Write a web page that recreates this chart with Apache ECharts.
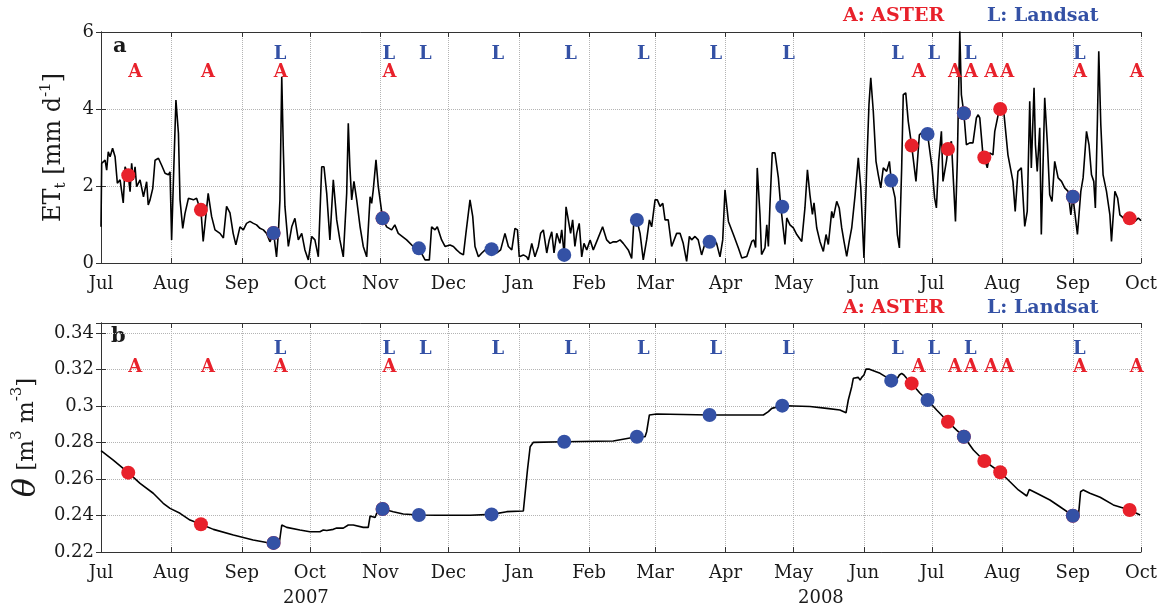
<!DOCTYPE html>
<html>
<head>
<meta charset="UTF-8">
<title>ET_t and soil moisture, ASTER / Landsat overpasses</title>
<script src="https://cdn.jsdelivr.net/npm/echarts@6/dist/echarts.min.js"></script>
<style>html,body,#container{width:100%;height:100%;margin:0;padding:0;background:#fff;}</style>
</head>
<body>
<div id="container"></div>
<script>
// ---- data ----
var monthNames = ['Jan','Feb','Mar','Apr','May','Jun','Jul','Aug','Sep','Oct','Nov','Dec'];
var yearLabels = ['2007', '2008'];

// overpass dates
var asterDates = ['2007-07-13','2007-08-14','2007-09-15','2007-11-02','2008-06-22','2008-07-08',
                  '2008-07-15','2008-07-24','2008-07-31','2008-09-01','2008-09-26'];
var asterET    = [2.28, 1.38, 0.78, 1.16, 3.05, 2.96, 3.89, 2.74, 4.0, 1.72, 1.16];
var asterTheta = [0.2635, 0.2352, 0.225, 0.2436, 0.3124, 0.2914, 0.2832, 0.2699, 0.2637, 0.2399, 0.243];

var landsatDates = ['2007-09-15','2007-11-02','2007-11-18','2007-12-20','2008-01-21','2008-02-22',
                    '2008-03-25','2008-04-26','2008-06-13','2008-06-29','2008-07-15','2008-09-01'];
var landsatET    = [0.78, 1.16, 0.38, 0.36, 0.21, 1.12, 0.55, 1.46, 2.14, 3.35, 3.89, 1.72];
var landsatTheta = [0.225, 0.2436, 0.2403, 0.2406, 0.2804, 0.2832, 0.2951, 0.3002, 0.3139, 0.3033, 0.2832, 0.2399];

// daily ET_t, day = days since 1 Jul 2007
var etDay = [0,0.3,1.8,2.5,3.2,4,5.1,6.2,7.2,8.4,9.8,10.6,12,12.8,13.5,14.2,15,15.7,17.2,18.7,20.1,20.8,21.6,22.8,23.8,25.3,26.7,28.2,29.7,30.4,
  31.1,31.9,33,34.1,34.8,36,37,38.5,39.2,40.7,42.1,43.3,44,45,47.2,48.7,50.2,52.4,53.9,55.3,56.8,58.2,59.4,61.2,62.7,64.1,65.6,67.1,68.5,70,
  71.5,72.9,74.4,76,77.3,78.1,78.8,79.6,80.3,81,82.5,84,85.4,86.9,88.4,89.8,91.3,92.8,94.2,95.7,97.2,98.2,99.4,100.8,102.3,103.8,105.2,106.7,108.2,108.9,
  109.6,110.4,111.4,112.6,114.1,115.5,117,118.5,119.2,119.9,121.1,122.1,124,125.8,128,129.4,130.9,131.7,134.6,137.5,140,142.7,144.6,145.6,147.1,148.1,
  150,151.5,153.7,155.2,156.6,158.1,159.6,160.7,162.5,163.7,164.7,166.2,167.7,169.9,172,174.3,176,177.9,179.4,180.9,182.3,183.4,184.2,186,187.5,188.2,
  189.7,191.1,192.6,193.6,194.8,196.3,197.4,198.5,199.5,200.7,202.1,202.9,204,204.8,205.8,206.8,207.7,208.7,209.5,210.6,211.7,212.7,213.9,215.4,216.8,218.6,
  220.9,222.7,224.2,225.6,227.1,228.6,230,232.2,233.7,234.7,236,237.4,238.8,240.3,241.5,242.5,244,245,246.2,247.4,248.4,249.8,251.3,253.5,255,256.4,
  257.9,259.1,260.1,261.6,263,264.5,266,268,269.7,271.1,272.6,273.8,274.8,276.3,278.5,280.7,282.2,284.4,286.6,287.5,288.3,289,290.2,290.9,292.4,293.2,
  293.9,294.6,295.6,296.8,298.3,299.3,300,301.2,302,303.4,304.9,306.4,308.6,310,311.1,312.2,313.3,314,315.2,316.6,318.1,319.3,320.3,321.8,322.5,324,
  325.1,326.2,327.2,328.4,329.5,330.6,332.1,333.5,334.6,336,337.2,338.2,339,340.1,341.3,342.3,343.4,344.5,346,347.2,348,349.7,350.7,351.6,352.6,353.3,
  354.4,355.5,357,358.9,360.4,362.1,364,366,367.1,367.9,368.9,370.1,370.8,372.3,373,374.5,375.3,376.3,377.1,378.2,378.9,380,381.1,382.6,384,385.5,
  386.3,387,388.4,389,390.3,391.4,392.8,393.6,395.1,396,397.7,399.4,401.6,402.6,403.8,405.3,406,406.8,407.9,409,409.7,410.9,411.5,412.3,413.4,414.1,
  415.6,416.8,417.8,418.8,420,421.5,423,424.4,425.9,427.1,428,428.8,430,431.5,432.5,434,435.1,436.2,437.2,437.9,438.8,439.4,440.3,441.3,442.8,444.3,
  445,446.5,447.7,448.7,450.2,453,453.9,455.3,456.8,458];
var etValue = [0.94,2.59,2.67,2.41,2.89,2.76,2.98,2.76,2.07,2.16,1.56,2.5,2.28,1.85,2.59,2.16,2.5,1.98,2.16,1.72,2.11,1.51,1.64,1.94,2.67,2.72,2.54,2.33,2.29,2.37,
  0.6,2.16,4.23,3.37,1.64,0.9,1.29,1.68,1.72,1.64,1.68,1.46,1.38,0.56,1.81,1.21,0.86,0.77,0.65,1.47,1.3,0.77,0.47,0.94,0.86,1.03,1.08,1.03,0.99,0.9,
  0.86,0.77,0.55,0.78,0.16,0.77,1.64,4.84,2.94,1.47,0.43,0.94,1.16,0.6,0.77,0.34,0.08,0.69,0.6,0.16,2.5,2.5,1.81,0.6,2.16,1.12,0.6,0.16,1.81,3.63,
  2.5,1.64,2.12,1.64,0.94,0.43,0.16,1.72,1.55,1.9,2.68,1.99,1.16,0.94,0.86,0.99,0.77,0.77,0.6,0.43,0.38,0.08,0.08,0.94,0.86,0.94,
  0.6,0.43,0.47,0.43,0.34,0.26,0.21,0.77,1.64,1.21,0.43,0.16,0.26,0.38,0.36,0.26,0.34,0.77,0.43,0.34,0.9,0.86,0.16,0.21,0.16,0.08,
  0.51,0.16,0.43,0.77,0.86,0.26,0.6,0.81,0.26,0.77,0.51,0.86,0.21,1.46,1.12,0.77,1.12,0.43,0.77,1.03,0.16,0.51,0.34,0.6,0.34,0.6,
  0.94,0.6,0.51,0.55,0.55,0.6,0.51,0.34,0.12,1.12,1.12,0.77,0.08,0.6,1.12,0.94,1.64,1.64,1.47,1.55,1.12,1.12,0.43,0.77,0.77,0.51,
  0.04,0.69,0.6,0.69,0.6,0.21,0.51,0.55,0.6,0.51,0.16,0.6,1.9,1.08,0.74,0.39,0.13,0.17,0.56,0.6,0.4,2.47,1.26,0.22,0.39,0.99,
  0.43,1.51,2.86,2.86,2.21,1.51,1.46,0.48,1.17,0.99,0.91,0.74,0.56,1.43,2.42,1.77,1.26,1.56,0.91,0.56,0.3,0.74,0.48,1.34,1.17,1.6,
  1.43,0.91,0.56,0.17,0.56,0.91,1.77,2.73,1.95,0.13,2.47,4.11,4.81,3.94,2.64,2.29,1.95,2.47,2.38,2.64,2.14,1.69,0.74,0.39,2.47,4.37,
  4.42,3.68,3.05,2.12,3.33,3.42,3.35,2.47,1.69,1.43,2.64,3.42,2.12,2.64,2.96,3.16,3.12,1.08,2.64,6.02,4.37,3.89,3.07,3.12,3.12,3.77,
  3.85,3.77,2.81,2.74,2.47,2.86,2.81,3.42,3.85,4.0,3.85,2.81,2.12,1.34,2.38,2.47,2.43,0.95,1.34,4.2,2.47,4.55,3.07,2.38,3.51,0.74,
  4.29,3.07,1.77,1.6,2.64,2.21,2.12,1.95,1.86,1.25,1.72,1.34,0.74,1.86,2.21,3.42,3.07,2.29,2.12,1.43,3.68,5.5,3.59,2.29,1.86,1.25,
  0.56,1.86,1.69,1.25,1.17,1.16,1.12,1.08,1.17,1.1];

// soil moisture theta, day = days since 1 Jul 2007
var thetaDay = [0,5.4,12,17.2,23,27.4,30.4,34.8,39.2,44,49.5,58.3,67,73,76,78.5,79.6,81.8,87.6,92,96.4,97.9,99.4,102.3,103.8,106.7,108.9,111.1,115.5,117.7,
  118.5,119.2,120.7,121.4,124,128.7,133.1,140,147.8,162.5,172,178.7,186,187.8,189,190.4,204,225.6,236,239.6,240.3,241.5,244.7,268,275.6,291.7,293.9,295.4,300,304.9,
  312.2,319.6,325.4,328.1,329.1,330.6,331.3,333.5,334.3,335,336,336.9,338.4,343.1,346,348,350.4,351.6,352.6,353.6,354.8,357,360.7,364,368,373,376.8,380,384.2,389,
  396,400.3,404,407.7,408.8,412.1,417.9,422.3,428,430.4,431.4,432.6,435.5,440,445.8,453,457.6];
var thetaValue = [0.2755,0.2704,0.2635,0.2576,0.2522,0.2467,0.2439,0.2412,0.2375,0.2352,0.2324,0.2293,0.2266,0.2252,0.225,0.2248,0.2348,0.2335,0.2321,0.2311,0.2311,0.2321,0.2318,0.2324,0.2331,0.2331,0.2348,0.2348,0.2335,0.2335,
  0.2397,0.2394,0.2389,0.2412,0.2436,0.2421,0.2408,0.2403,0.2401,0.2401,0.2406,0.2421,0.2425,0.2649,0.2777,0.2801,0.2804,0.2808,0.2832,0.2832,0.2859,0.2951,0.2956,0.2951,0.2951,0.2951,0.2969,0.2987,0.3002,0.3,
  0.2997,0.2987,0.2978,0.2963,0.3033,0.3106,0.3152,0.3157,0.3142,0.3157,0.317,0.3203,0.3202,0.3179,0.3157,0.3139,0.3146,0.317,0.3179,0.317,0.3152,0.3124,0.307,0.3033,0.2978,0.2914,0.2868,0.2832,0.2759,0.2699,
  0.2637,0.2585,0.254,0.2507,0.2543,0.2522,0.2485,0.2448,0.2399,0.2392,0.253,0.254,0.2522,0.25,0.2458,0.243,0.2403];

// ---- helpers ----
var RED = '#e8212b', BLUE = '#3451a5', INK = '#1a1a1a', FONT = 'DejaVu Serif';
var DAY = 86400000;
var t0 = Date.UTC(2007, 6, 1);
function dayOf(y, m, d) { return Math.round((Date.UTC(y, m, d) - t0) / DAY); }
function toDay(s) { var p = s.split('-'); return dayOf(+p[0], +p[1] - 1, +p[2]); }
function pairs(days, vals) { return days.map(function (d, i) { return [d, vals[i]]; }); }
function datePairs(dates, vals) { return dates.map(function (d, i) { return [toDay(d), vals[i]]; }); }

var monthTicks = [];
for (var i = 0; i <= 15; i++) monthTicks.push(dayOf(2007, 6 + i, 1));
var dEnd = monthTicks[monthTicks.length - 1];
function monthLabel(v) {
  var k = monthTicks.indexOf(Math.round(v));
  return k < 0 ? '' : monthNames[(6 + k) % 12];
}

// letter rows (A/L) sit at fixed heights inside each panel
var rowET = { L: 5.43, A: 4.94 };
var rowTheta = { L: 0.3313, A: 0.3214 };

function xAx(grid, pos) {
  var bottom = pos === 'bottom';
  return {
    type: 'value', gridIndex: grid, position: pos, min: 0, max: dEnd,
    axisLine: { show: true, onZero: false, lineStyle: { color: '#333', width: 1 } },
    axisTick: { show: true, inside: true, length: 5, customValues: monthTicks, lineStyle: { color: '#333' } },
    axisLabel: {
      show: bottom, customValues: monthTicks, margin: 12, color: INK, fontFamily: FONT, fontSize: 18,
      formatter: monthLabel
    },
    splitLine: { show: bottom, lineStyle: { type: 'dotted', color: '#b4b4b4', width: 1 } }
  };
}
function yAx(grid, pos, min, max, step, fmt, name, nameStyle, gap) {
  var left = pos === 'left';
  return {
    type: 'value', gridIndex: grid, position: pos, min: min, max: max, interval: step,
    axisLine: { show: true, lineStyle: { color: '#333', width: 1 } },
    axisTick: { show: true, inside: true, length: 5, lineStyle: { color: '#333' } },
    axisLabel: { show: left, margin: 7, color: INK, fontFamily: FONT, fontSize: 18, formatter: fmt },
    splitLine: { show: left, lineStyle: { type: 'dotted', color: '#b4b4b4', width: 1 } },
    name: left ? name : '', nameLocation: 'middle', nameRotate: 90, nameGap: gap,
    nameTextStyle: nameStyle
  };
}
function letterSeries(xi, yi, dates, y, txt, color) {
  return {
    type: 'scatter', xAxisIndex: xi, yAxisIndex: yi, symbolSize: 0.1, silent: true,
    itemStyle: { color: 'rgba(0,0,0,0)', opacity: 1 },
    data: dates.map(function (d) { return [toDay(d), y]; }),
    label: { show: true, position: 'right', distance: 0, formatter: txt, color: color, opacity: 1,
             fontFamily: FONT, fontWeight: 'bold', fontSize: 18 }
  };
}
function dotSeries(xi, yi, dates, vals, color) {
  return {
    type: 'scatter', xAxisIndex: xi, yAxisIndex: yi, symbol: 'circle', symbolSize: 14,
    itemStyle: { color: color, opacity: 1 }, data: datePairs(dates, vals), z: 3
  };
}
function thetaFmt(v) {
  var k = Math.round(v / 0.02);
  if (Math.abs(v - k * 0.02) > 1e-6) return '';
  return String(+(k * 0.02).toFixed(2));
}

var chart = echarts.init(document.getElementById('container'));
chart.setOption({
  animation: false,
  backgroundColor: '#fff',
  grid: [
    { left: 101, right: 21, top: 32, height: 231 },
    { left: 101, right: 21, top: 323, height: 229 }
  ],
  xAxis: [xAx(0, 'bottom'), xAx(0, 'top'), xAx(1, 'bottom'), xAx(1, 'top')],
  yAxis: [
    yAx(0, 'left', 0, 6, 2, null, '{n|ET}{s|t}{n| [mm d}{p|-1}{n|]}', {
      color: INK, fontFamily: FONT,
      rich: {
        n: { fontSize: 24, fontFamily: FONT, color: INK, lineHeight: 30, verticalAlign: 'middle' },
        s: { fontSize: 15, fontFamily: FONT, color: INK, verticalAlign: 'bottom', lineHeight: 15 },
        p: { fontSize: 15, fontFamily: FONT, color: INK, verticalAlign: 'top', lineHeight: 15 }
      }
    }, 32),
    yAx(0, 'right', 0, 6, 2, null, '', {}, 0),
    yAx(1, 'left', 0.22, 0.3455, 0.02, thetaFmt, '{q|θ}{n| [m}{p|3}{n| m}{p|-3}{n|]}', {
      color: INK, fontFamily: FONT,
      rich: {
        q: { fontSize: 32, fontFamily: FONT, fontStyle: 'italic', color: INK, lineHeight: 34, verticalAlign: 'middle' },
        n: { fontSize: 23, fontFamily: FONT, color: INK, verticalAlign: 'middle' },
        p: { fontSize: 15, fontFamily: FONT, color: INK, verticalAlign: 'top', lineHeight: 15 }
      }
    }, 46),
    yAx(1, 'right', 0.22, 0.3455, 0.02, thetaFmt, '', {}, 0)
  ],
  graphic: [
    { type: 'text', left: 113, top: 36, style: { text: 'a', fill: INK, font: 'bold 21px "DejaVu Serif"' } },
    { type: 'text', left: 111, top: 326, style: { text: 'b', fill: INK, font: 'bold 21px "DejaVu Serif"' } },
    { type: 'text', left: 843, top: 7, style: { text: 'A: ASTER', fill: RED, font: 'bold 19px "DejaVu Serif"' } },
    { type: 'text', left: 987, top: 7, style: { text: 'L: Landsat', fill: BLUE, font: 'bold 19px "DejaVu Serif"' } },
    { type: 'text', left: 843, top: 299, style: { text: 'A: ASTER', fill: RED, font: 'bold 19px "DejaVu Serif"' } },
    { type: 'text', left: 987, top: 299, style: { text: 'L: Landsat', fill: BLUE, font: 'bold 19px "DejaVu Serif"' } },
    { type: 'text', left: 283, top: 589, style: { text: yearLabels[0], fill: INK, font: '18px "DejaVu Serif"' } },
    { type: 'text', left: 798, top: 589, style: { text: yearLabels[1], fill: INK, font: '18px "DejaVu Serif"' } }
  ],
  series: [
    { type: 'line', xAxisIndex: 0, yAxisIndex: 0, data: pairs(etDay, etValue), showSymbol: false,
      lineStyle: { color: '#000', width: 1.6 }, clip: true, z: 2 },
    dotSeries(0, 0, asterDates, asterET, RED),
    dotSeries(0, 0, landsatDates, landsatET, BLUE),
    letterSeries(0, 0, asterDates, rowET.A, 'A', RED),
    letterSeries(0, 0, landsatDates, rowET.L, 'L', BLUE),

    { type: 'line', xAxisIndex: 2, yAxisIndex: 2, data: pairs(thetaDay, thetaValue), showSymbol: false,
      lineStyle: { color: '#000', width: 1.6 }, clip: true, z: 2 },
    dotSeries(2, 2, asterDates, asterTheta, RED),
    dotSeries(2, 2, landsatDates, landsatTheta, BLUE),
    letterSeries(2, 2, asterDates, rowTheta.A, 'A', RED),
    letterSeries(2, 2, landsatDates, rowTheta.L, 'L', BLUE)
  ]
});
window.onresize = function () { chart.resize(); };
</script>
</body>
</html>
